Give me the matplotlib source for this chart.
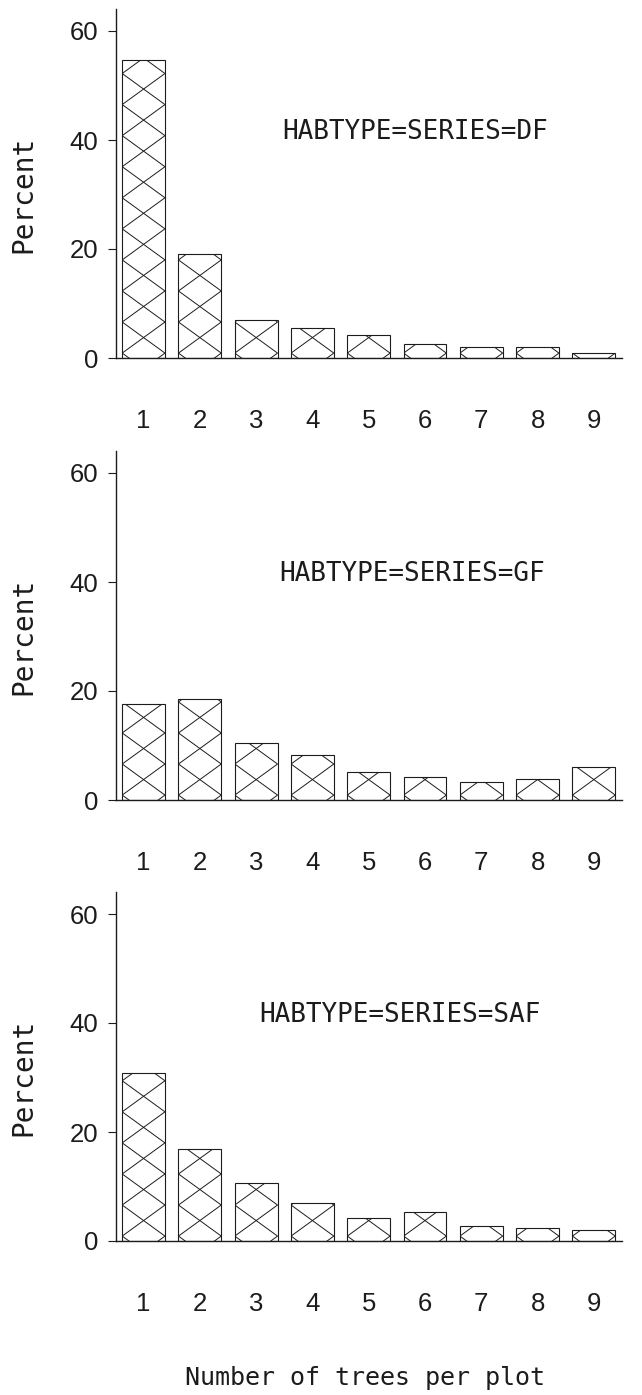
import matplotlib
matplotlib.use('Agg')
import matplotlib.pyplot as plt
import numpy as np
from matplotlib.collections import LineCollection
from matplotlib.transforms import blended_transform_factory

# ---- data ----
trees = [1, 2, 3, 4, 5, 6, 7, 8, 9]
pct_df = [54.7, 19.1, 7.0, 5.5, 4.2, 2.6, 2.1, 2.1, 0.9]
pct_gf = [17.6, 18.6, 10.4, 8.3, 5.1, 4.3, 3.3, 3.8, 6.1]
pct_saf = [30.8, 16.9, 10.7, 6.9, 4.3, 5.4, 2.7, 2.35, 2.0]
series_labels = ['HABTYPE=SERIES=DF', 'HABTYPE=SERIES=GF', 'HABTYPE=SERIES=SAF']
y_ticks = [0, 20, 40, 60]
x_label = 'Number of trees per plot'
y_label = 'Percent'

# ---- layout ----
W, H = 642, 1395
fig = plt.figure(figsize=(W / 100, H / 100), dpi=100)
fig.patch.set_facecolor('white')
ink = '#1c1c1c'
mono = 'DejaVu Sans Mono'
sans = ['Liberation Sans', 'DejaVu Sans']

bottoms_px = [358, 800, 1241]
left_px, right_px = 116, 622
ymax = 64
px_per_unit = 5.45
height_px = ymax * px_per_unit
text_x = [5.82, 5.77, 5.55]
bar_w = 0.76
period = 5.7   # vertical period of cross-hatch (data units)
phase = 0.9    # vertical offset of hatch lattice

panels = [pct_df, pct_gf, pct_saf]
for i, vals in enumerate(panels):
    b = bottoms_px[i]
    ax = fig.add_axes([left_px / W, 1 - b / H, (right_px - left_px) / W, height_px / H])
    bars = ax.bar(trees, vals, width=bar_w, color='white', edgecolor=ink,
                  linewidth=0.8, zorder=2)
    # cross hatching clipped to each bar
    for rect in bars:
        xl = rect.get_x()
        xr = xl + rect.get_width()
        h = rect.get_height()
        segs = []
        for k in range(-1, int(np.ceil(h / period)) + 1):
            y0 = phase + k * period
            segs.append([(xl, y0), (xr, y0 + period)])
            segs.append([(xr, y0), (xl, y0 + period)])
        lc = LineCollection(segs, colors=ink, linewidths=0.7, zorder=3)
        ax.add_collection(lc)
        lc.set_clip_path(rect)

    ax.set_xlim(0.51, 9.5)
    ax.set_ylim(0, ymax)
    for s in ['top', 'right']:
        ax.spines[s].set_visible(False)
    for s in ['left', 'bottom']:
        ax.spines[s].set_linewidth(1.0)
        ax.spines[s].set_color(ink)
    ax.set_yticks(y_ticks)
    ax.set_xticks(trees)
    ax.tick_params(axis='y', direction='out', length=6, width=0.8, pad=7,
                   labelsize=18.5, colors=ink)
    ax.tick_params(axis='x', length=0, pad=37, labelsize=18.5, colors=ink)
    for lab in ax.get_xticklabels() + ax.get_yticklabels():
        lab.set_family(sans)

    ax.text(text_x[i], 40.2, series_labels[i], ha='center', va='baseline',
            family=mono, fontsize=18.7, color=ink)

    tr = blended_transform_factory(fig.transFigure, ax.transData)
    ax.text(23 / W, 30, y_label, transform=tr, rotation=90, ha='center',
            va='center', family=mono, fontsize=20, color=ink)

fig.text(365 / W, 1 - 1378 / H, x_label, ha='center', va='center',
         family=mono, fontsize=18, color=ink)

fig.savefig('out.png', dpi=100, facecolor='white')
